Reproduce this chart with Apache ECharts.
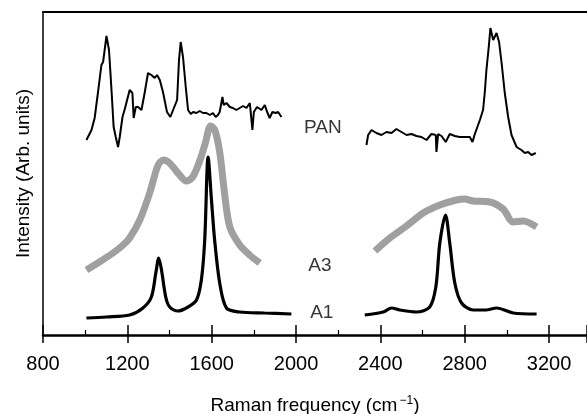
<!DOCTYPE html>
<html><head><meta charset="utf-8">
<script src="https://cdn.jsdelivr.net/npm/echarts@6/dist/echarts.min.js"></script>
<style>html,body{margin:0;padding:0;background:#fff}#c{width:587px;height:414px}</style>
</head><body><div id="c"></div>
<script>
// Raman frequency (cm-1), intensity (arbitrary units)
const panLow = [[1006,195],[1030,205],[1045,217],[1061,243],[1077,270],[1085,273],[1101,299],[1113,285],[1124,248],[1135,208],[1145,198],[1156,188],[1164,198],[1177,218],[1188,226],[1211,245],[1224,242],[1230,217],[1240,228],[1251,228],[1267,225],[1282,242],[1298,262],[1314,260],[1330,257],[1341,260],[1354,255],[1369,243],[1388,223],[1404,218],[1417,225],[1436,235],[1445,275],[1453,293],[1464,278],[1477,248],[1488,225],[1501,221],[1512,223],[1528,222],[1543,224],[1559,222],[1575,222],[1591,220],[1606,222],[1619,218],[1630,220],[1638,223],[1651,238],[1657,230],[1670,232],[1686,228],[1701,227],[1717,225],[1733,227],[1749,229],[1765,227],[1781,232],[1793,205],[1800,223],[1815,228],[1836,225],[1852,230],[1863,223],[1875,217],[1888,223],[1904,222],[1915,223],[1931,218]];
const panHigh = [[2334,190],[2342,200],[2358,205],[2381,202],[2405,200],[2429,203],[2453,202],[2476,206],[2500,203],[2524,200],[2548,201],[2571,199],[2595,198],[2619,195],[2642,201],[2663,200],[2666,183],[2674,201],[2690,199],[2710,193],[2729,201],[2753,199],[2776,198],[2800,198],[2824,198],[2837,193],[2848,201],[2872,215],[2887,225],[2895,242],[2903,265],[2914,288],[2922,307],[2935,295],[2951,302],[2963,293],[2975,272],[2990,242],[3006,218],[3022,200],[3046,188],[3069,185],[3085,182],[3101,183],[3117,180],[3137,182]];
const a3Low = [[1006,65],[1060,72],[1132,82],[1180,90],[1211,97],[1259,115],[1306,142],[1346,170],[1372,175],[1400,172],[1440,162],[1480,154],[1510,158],[1543,174],[1570,192],[1595,209],[1615,205],[1638,183],[1662,140],[1686,108],[1733,90],[1780,80],[1828,72]];
const a3High = [[2374,84],[2445,97],[2524,109],[2603,122],[2682,130],[2761,135],[2800,136],[2840,134],[2919,133],[2982,126],[3030,113],[3077,114],[3141,108]];
const a1Low = [[1006,17],[1100,18],[1211,20],[1274,27],[1314,38],[1335,62],[1349,77],[1362,65],[1382,38],[1401,28],[1440,24],[1488,28],[1528,35],[1551,55],[1567,95],[1583,178],[1599,135],[1614,95],[1638,52],[1670,27],[1733,23],[1850,22],[1978,21]];
const a1High = [[2326,20],[2413,23],[2453,27],[2492,25],[2571,23],[2634,28],[2663,48],[2682,92],[2709,120],[2729,92],[2753,52],[2785,32],[2840,25],[2900,25],[2951,27],[3030,22],[3141,21]];
const curveLabels = [[2127,207,'PAN'],[2113,69,'A3'],[2122,22,'A1']];
const xTicks = [800,1200,1600,2000,2400,2800,3200];

const FONT = 'Liberation Sans, Arial, Helvetica, sans-serif';
const chart = echarts.init(document.getElementById('c'), null, {renderer:'canvas'});
const xBase = {type:'value', min:800, max:3380, interval:400, splitLine:{show:false}};
chart.setOption({
  animation:false,
  backgroundColor:'#fff',
  grid:{left:43, top:12, right:0, bottom:79, show:false, containLabel:false, outerBoundsMode:'none'},
  xAxis:[
    Object.assign({}, xBase, {
      position:'bottom',
      name:'Raman frequency (cm{sup|−1})', nameLocation:'middle', nameGap:60,
      nameTextStyle:{fontFamily:FONT, fontSize:19, color:'#000', rich:{sup:{fontFamily:FONT, fontSize:12, color:'#000', verticalAlign:'top', padding:[0,0,10,2]}}},
      axisLine:{show:true, lineStyle:{color:'#000', width:2.5}},
      axisTick:{show:true, inside:true, length:10, lineStyle:{color:'#000', width:1.5}},
      minorTick:{show:true, splitNumber:2, length:5, lineStyle:{color:'#000', width:1.2}},
      axisLabel:{show:true, margin:19, fontFamily:FONT, fontSize:20, color:'#000', showMaxLabel:false,
        formatter:v => xTicks.indexOf(v) >= 0 ? String(v) : ''}
    }),
    Object.assign({}, xBase, {
      position:'bottom',
      axisLine:{show:false},
      axisTick:{show:true, inside:false, length:8, lineStyle:{color:'#000', width:1.5}},
      axisLabel:{show:false}
    }),
    Object.assign({}, xBase, {
      position:'top',
      axisLine:{show:true, lineStyle:{color:'#000', width:2}},
      axisTick:{show:false},
      axisLabel:{show:false}
    })
  ],
  yAxis:{type:'value', min:0, max:323, position:'left',
    name:'Intensity (Arb. units)', nameLocation:'middle', nameGap:10, nameRotate:90,
    nameTextStyle:{fontFamily:FONT, fontSize:19, color:'#000'},
    axisLine:{show:true, lineStyle:{color:'#000', width:1.5}},
    axisTick:{show:false}, axisLabel:{show:false}, splitLine:{show:false}},
  series:[
    {type:'line', data:a3Low, symbol:'none', smooth:0.3, lineStyle:{color:'#a0a0a0', width:7}},
    {type:'line', data:a3High, symbol:'none', smooth:0.3, lineStyle:{color:'#a0a0a0', width:7}},
    {type:'line', data:panLow, symbol:'none', lineStyle:{color:'#000', width:2}},
    {type:'line', data:panHigh, symbol:'none', lineStyle:{color:'#000', width:2}},
    {type:'line', data:a1Low, symbol:'none', smooth:0.3, lineStyle:{color:'#000', width:3.2}},
    {type:'line', data:a1High, symbol:'none', smooth:0.3, lineStyle:{color:'#000', width:3.2}},
    {type:'scatter', data:curveLabels, symbolSize:0, silent:true,
      label:{show:true, position:'inside', formatter:p => p.data[2], fontFamily:FONT, fontSize:19, color:'#000'}}
  ]
});
</script></body></html>
